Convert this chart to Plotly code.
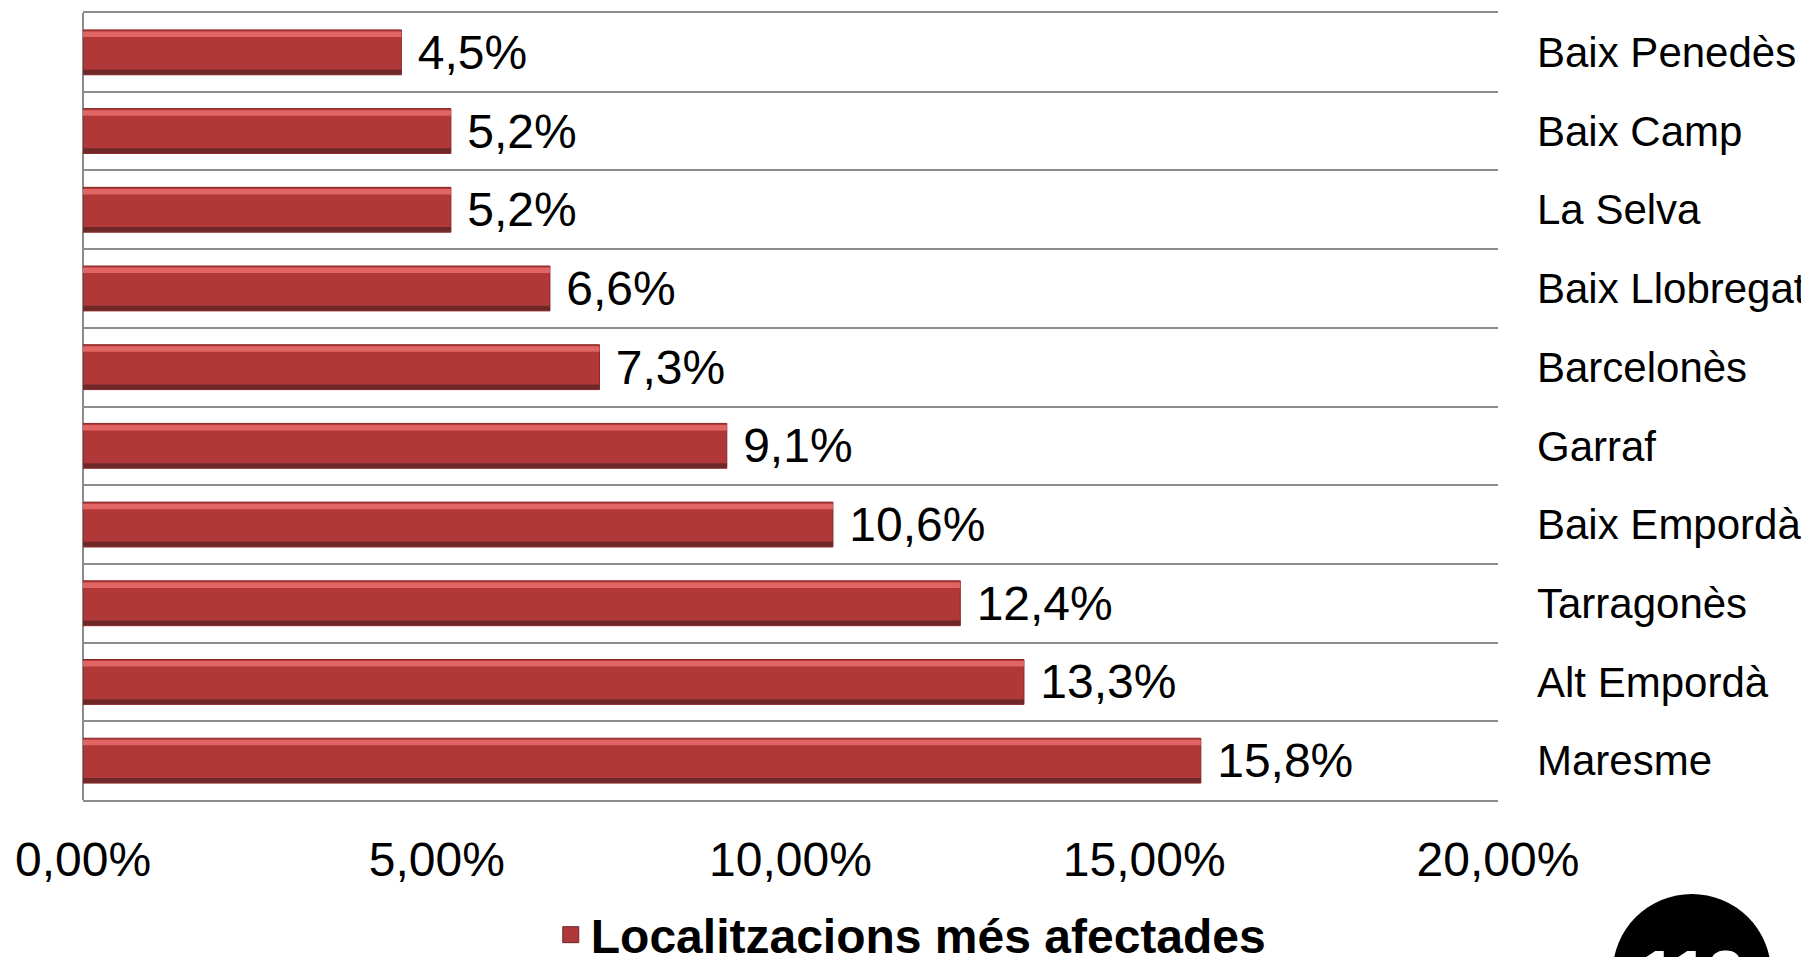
import plotly.graph_objects as go

comarques = ['Baix Penedès', 'Baix Camp', 'La Selva', 'Baix Llobregat', 'Barcelonès',
             'Garraf', 'Baix Empordà', 'Tarragonès', 'Alt Empordà', 'Maresme']
valors = [4.5, 5.2, 5.2, 6.6, 7.3, 9.1, 10.6, 12.4, 13.3, 15.8]
etiquetes = ['4,5%', '5,2%', '5,2%', '6,6%', '7,3%', '9,1%', '10,6%', '12,4%', '13,3%', '15,8%']
ticks_x = [0, 5, 10, 15, 20]
ticks_x_text = ['0,00%', '5,00%', '10,00%', '15,00%', '20,00%']
serie = 'Localitzacions més afectades'

W = 0.57
fig = go.Figure()
# cos principal de la barra
fig.add_trace(go.Bar(
    y=comarques, x=valors, orientation='h', name=serie, showlegend=False,
    width=W, marker=dict(color='#B13838', line=dict(color='#8A2727', width=1)),
    text=['\u00a0' + t for t in etiquetes], textposition='outside', constraintext='none',
    textfont=dict(family='Liberation Sans, Arial', size=48, color='black'),
    cliponaxis=False,
))
# reflex clar a dalt
fig.add_trace(go.Bar(
    y=comarques, x=valors, orientation='h', showlegend=False, hoverinfo='skip',
    width=0.07, offset=-W/2 + 0.02, marker=dict(color='#E26565', line=dict(width=0)),
))
# ombra fosca a baix
fig.add_trace(go.Bar(
    y=comarques, x=valors, orientation='h', showlegend=False, hoverinfo='skip',
    width=0.06, offset=W/2 - 0.065, marker=dict(color='#6E2828', line=dict(width=0)),
))
# entrada de llegenda amb quadre més gran
fig.add_trace(go.Scatter(
    x=[None], y=[None], mode='markers', name=serie,
    marker=dict(symbol='square', size=16, color='#B13838', line=dict(color='#6E2828', width=1)),
))

# la pàgina té 8px de marge al body: es compensa aquí
fig.update_layout(
    width=1809, height=957,
    margin=dict(l=75, r=319, t=5, b=165, autoexpand=False),
    plot_bgcolor='white', paper_bgcolor='white',
    barmode='overlay', bargap=0.43,
    font=dict(family='Liberation Sans, Arial', color='black'),
    showlegend=True,
    legend=dict(orientation='h', x=0.585, xanchor='center', y=-0.1715, yanchor='middle',
                font=dict(size=48, family='Liberation Sans, Arial', weight='bold'),
                bgcolor='rgba(0,0,0,0)', itemwidth=30),
)
fig.update_xaxes(
    range=[0, 20], tickvals=ticks_x, ticktext=ticks_x_text,
    tickfont=dict(size=48), showgrid=False, automargin=False,
    zeroline=True, zerolinecolor='#8C8C8C', zerolinewidth=2,
    showline=True, mirror=True, linecolor='#8C8C8C', linewidth=2,
    ticks='', ticklabelstandoff=16,
)
fig.update_yaxes(
    autorange='reversed', side='right', tickson='boundaries', automargin=False,
    showgrid=True, gridcolor='#8C8C8C', gridwidth=2,
    showline=False, ticks='', tickfont=dict(size=42),
    ticklabelstandoff=38,
)
# segell decoratiu
fig.add_shape(type='circle', xref='paper', yref='paper',
              x0=1.081, x1=1.193, y0=-0.320, y1=-0.1194,
              fillcolor='black', line=dict(width=0))
fig.add_annotation(x=1.137, y=-0.173, xref='paper', yref='paper', xanchor='center', yanchor='top',
                   text='<b>112</b>', showarrow=False,
                   font=dict(size=64, color='white', family='Liberation Sans, Arial'))

fig.write_html('out.html')
